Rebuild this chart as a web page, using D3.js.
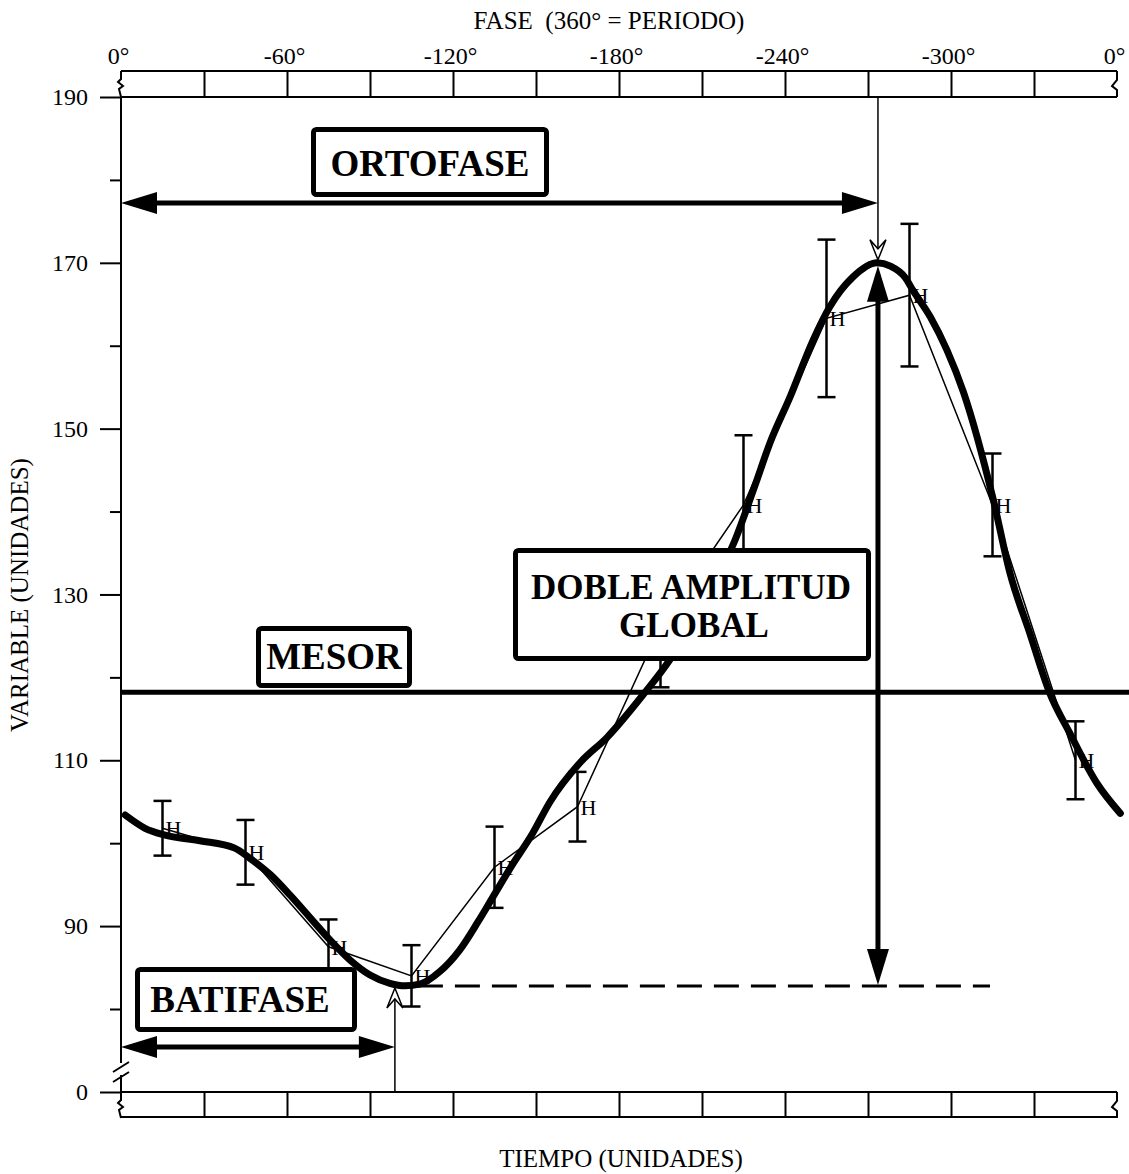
<!DOCTYPE html>
<html>
<head>
<meta charset="utf-8">
<script src="https://cdn.jsdelivr.net/npm/d3@7"></script>
<style>
body { margin: 0; background: #fff; }
text { font-family: 'Liberation Serif', 'Times New Roman', serif; fill: #000; }
</style>
</head>
<body>
<script>
// medias por intervalo de tiempo (12 intervalos = 1 periodo)
const tiempo = [0.5, 1.5, 2.5, 3.5, 4.5, 5.5, 6.5, 7.5, 8.5, 9.5, 10.5, 11.5];
const media = [101.8, 98.9, 87.5, 84.0, 97.1, 104.4, 126.2, 140.8, 163.3, 166.1, 140.8, 110.0];
const errorEst = [3.3, 3.9, 3.3, 3.7, 4.9, 4.2, 7.4, 8.4, 9.5, 8.6, 6.2, 4.7];

// curva ajustada
const ajusteT = [0.05, 0.29, 0.52, 0.95, 1.37, 1.55, 1.80, 2.04, 2.28, 2.52, 2.76, 3.00, 3.24, 3.42,
  3.60, 3.84, 4.08, 4.30, 4.48, 4.69, 4.96, 5.17, 5.53, 5.86, 6.29, 6.61, 6.98, 7.40, 7.64, 7.82,
  8.06, 8.34, 8.54, 8.82, 9.11, 9.27, 9.45, 9.54, 9.75, 9.95, 10.15, 10.51, 10.71, 10.95, 11.19, 11.43,
  11.76, 12.04];
const ajusteV = [103.4, 101.8, 101.0, 100.3, 99.4, 98.2, 96.2, 93.7, 91.0, 88.3, 85.9, 84.1, 83.1, 82.8,
  83.0, 84.5, 87.1, 90.5, 93.5, 97.0, 101.2, 105.0, 109.7, 112.8, 117.9, 122.1, 128.4, 136.6, 143.2, 148.3,
  153.8, 160.7, 164.7, 168.3, 170.0, 169.6, 168.2, 166.7, 163.5, 159.5, 154.4, 141.4, 132.6, 125.3, 118.1, 113.3,
  107.2, 103.6];

const faseTicks = [0, -30, -60, -90, -120, -150, -180, -210, -240, -270, -300, -330, -360];
const faseLabels = ['0°', '', '-60°', '', '-120°', '', '-180°', '', '-240°', '', '-300°', '', '0°'];
const tiempoTicks = [1, 2, 3, 4, 5, 6, 7, 8, 9, 10, 11];
const yMayores = [0, 90, 110, 130, 150, 170, 190];
const yMenores = [80, 100, 120, 140, 160, 180];

const mesor = 118.2, acrofase = 9.12, batifase = 3.3, maximo = 170.0, minimo = 82.9;

const svg = d3.select('body').append('svg')
  .attr('width', 1129)
  .attr('height', 1174);

const x = d3.scaleLinear().domain([0, 12]).range([121, 1117]);
const fase = d3.scaleLinear().domain([0, -360]).range([121, 1117]);
const y = d3.scaleLinear().domain([0, 80, 190]).range([1092, 1009, 97]); // eje cortado

function zigIzq(x0, y0) {
  return `M${x0},${y0} L${x0},${y0 + 8} L${x0 - 3},${y0 + 11} L${x0 + 2},${y0 + 15} L${x0 - 2},${y0 + 18} L${x0},${y0 + 26}`;
}
function zigDer(x0, y0) {
  return `M${x0},${y0} L${x0},${y0 + 9} L${x0 - 5},${y0 + 15} L${x0},${y0 + 19} L${x0},${y0 + 26}`;
}
function flecha(tx, ty, dx, dy) {
  const L = 36, w = 11;
  const bx = tx - dx * L, by = ty - dy * L;
  return `M${tx},${ty} L${bx - dy * w},${by + dx * w} L${bx + dy * w},${by - dx * w} Z`;
}
function flechaAbierta(tx, ty, dir) {
  // dir = 1 apunta hacia abajo, -1 hacia arriba
  return `M${tx - 8},${ty - dir * 20} L${tx},${ty} L${tx + 8},${ty - dir * 20} L${tx},${ty - dir * 11} Z`;
}

// banda superior (fase)
svg.append('g')
  .attr('transform', 'translate(0,97)')
  .call(d3.axisTop(fase).tickValues(faseTicks).tickSize(26).tickPadding(7)
    .tickFormat((d, i) => faseLabels[i]))
  .call(g => g.select('.domain').remove())
  .call(g => g.selectAll('.tick line').attr('stroke-width', 2).filter(d => d === 0 || d === -360).remove())
  .call(g => g.selectAll('text').attr('font-size', 24).attr('dx', -3));

svg.append('path').attr('d', 'M121,71 H1117').attr('stroke', '#000').attr('stroke-width', 2);
svg.append('path').attr('d', 'M121,97 H1117').attr('stroke', '#000').attr('stroke-width', 2);
svg.append('path').attr('d', zigIzq(121, 71)).attr('fill', 'none').attr('stroke', '#000').attr('stroke-width', 2);
svg.append('path').attr('d', zigDer(1117, 71)).attr('fill', 'none').attr('stroke', '#000').attr('stroke-width', 2);

// banda inferior (tiempo)
svg.append('g')
  .attr('transform', 'translate(0,1092)')
  .call(d3.axisBottom(x).tickValues(tiempoTicks).tickSize(25).tickFormat(''))
  .call(g => g.select('.domain').remove())
  .call(g => g.selectAll('.tick line').attr('stroke-width', 2));

svg.append('path').attr('d', 'M121,1092 H1117').attr('stroke', '#000').attr('stroke-width', 2);
svg.append('path').attr('d', 'M121,1117 H1117').attr('stroke', '#000').attr('stroke-width', 2);
svg.append('path').attr('d', zigIzq(121, 1092)).attr('fill', 'none').attr('stroke', '#000').attr('stroke-width', 2);
svg.append('path').attr('d', zigDer(1117, 1092)).attr('fill', 'none').attr('stroke', '#000').attr('stroke-width', 2);

// eje Y
svg.append('g')
  .attr('transform', 'translate(121,0)')
  .call(d3.axisLeft(y).tickValues(yMayores).tickSize(21).tickPadding(12).tickFormat(d3.format('d')))
  .call(g => g.select('.domain').remove())
  .call(g => g.selectAll('.tick line').attr('stroke-width', 2))
  .call(g => g.selectAll('text').attr('font-size', 24));

svg.append('g')
  .attr('transform', 'translate(121,0)')
  .call(d3.axisLeft(y).tickValues(yMenores).tickSize(11).tickFormat(''))
  .call(g => g.select('.domain').remove())
  .call(g => g.selectAll('.tick line').attr('stroke-width', 2));

svg.append('path').attr('d', 'M121,97 V1063 M121,1075 V1092')
  .attr('stroke', '#000').attr('stroke-width', 2);
svg.append('path').attr('d', 'M113,1072 L129,1062 M113,1082 L129,1072')
  .attr('stroke', '#000').attr('stroke-width', 2);

// mesor y nivel minimo
svg.append('line')
  .attr('x1', 121).attr('x2', 1129)
  .attr('y1', y(mesor)).attr('y2', y(mesor))
  .attr('stroke', '#000').attr('stroke-width', 5);

svg.append('line')
  .attr('x1', x(batifase) + 23).attr('x2', x(10.47))
  .attr('y1', y(minimo) + 1).attr('y2', y(minimo) + 1)
  .attr('stroke', '#000').attr('stroke-width', 3)
  .attr('stroke-dasharray', '25,12');

// datos: linea de medias, barras de error, marcas H
const datos = tiempo.map((t, i) => ({ t: t, m: media[i], e: errorEst[i] }));

svg.append('path')
  .datum(datos)
  .attr('fill', 'none')
  .attr('stroke', '#000')
  .attr('stroke-width', 1.5)
  .attr('d', d3.line().x(d => x(d.t)).y(d => y(d.m)));

const barras = svg.append('g').attr('stroke', '#000').attr('stroke-width', 2.5);
barras.selectAll('.v').data(datos).enter().append('line')
  .attr('x1', d => x(d.t)).attr('x2', d => x(d.t))
  .attr('y1', d => y(d.m + d.e)).attr('y2', d => y(d.m - d.e));
barras.selectAll('.s').data(datos).enter().append('line')
  .attr('x1', d => x(d.t) - 9).attr('x2', d => x(d.t) + 9)
  .attr('y1', d => y(d.m + d.e)).attr('y2', d => y(d.m + d.e));
barras.selectAll('.i').data(datos).enter().append('line')
  .attr('x1', d => x(d.t) - 9).attr('x2', d => x(d.t) + 9)
  .attr('y1', d => y(d.m - d.e)).attr('y2', d => y(d.m - d.e));

// la marca del punto 7 queda tapada por la caja de doble amplitud
svg.selectAll('.hm').data(datos.filter((d, i) => i !== 6)).enter().append('text')
  .attr('x', d => x(d.t) + 3)
  .attr('y', d => y(d.m) + 8)
  .attr('font-size', 22)
  .text('H');

// curva ajustada
svg.append('path')
  .datum(ajusteT.map((t, i) => [t, ajusteV[i]]))
  .attr('fill', 'none')
  .attr('stroke', '#000')
  .attr('stroke-width', 7)
  .attr('stroke-linejoin', 'round')
  .attr('stroke-linecap', 'round')
  .attr('d', d3.line().x(d => x(d[0])).y(d => y(d[1])).curve(d3.curveMonotoneX));

// acrofase: linea fina desde la banda superior
const xA = x(acrofase), xB = x(batifase);
svg.append('line').attr('x1', xA).attr('x2', xA).attr('y1', 97).attr('y2', y(maximo) - 4)
  .attr('stroke', '#000').attr('stroke-width', 1.5);
svg.append('path').attr('d', flechaAbierta(xA, y(maximo) - 3, 1))
  .attr('fill', '#fff').attr('stroke', '#000').attr('stroke-width', 1.5);

// batifase: linea fina desde la banda inferior
svg.append('line').attr('x1', xB).attr('x2', xB).attr('y1', 1092).attr('y2', y(minimo) + 4)
  .attr('stroke', '#000').attr('stroke-width', 1.5);
svg.append('path').attr('d', flechaAbierta(xB, y(minimo) + 3, -1))
  .attr('fill', '#fff').attr('stroke', '#000').attr('stroke-width', 1.5);

// flecha ORTOFASE
const yO = 203;
svg.append('line').attr('x1', 121 + 30).attr('x2', xA - 30).attr('y1', yO).attr('y2', yO)
  .attr('stroke', '#000').attr('stroke-width', 5);
svg.append('path').attr('d', flecha(121, yO, -1, 0));
svg.append('path').attr('d', flecha(xA, yO, 1, 0));

// flecha BATIFASE
const yBt = 1047;
svg.append('line').attr('x1', 121 + 30).attr('x2', xB - 30).attr('y1', yBt).attr('y2', yBt)
  .attr('stroke', '#000').attr('stroke-width', 5);
svg.append('path').attr('d', flecha(121, yBt, -1, 0));
svg.append('path').attr('d', flecha(xB, yBt, 1, 0));

// flecha doble amplitud
const yTop = y(maximo) + 3, yBot = y(minimo);
svg.append('line').attr('x1', xA).attr('x2', xA).attr('y1', yTop + 30).attr('y2', yBot - 30)
  .attr('stroke', '#000').attr('stroke-width', 5);
svg.append('path').attr('d', flecha(xA, yTop, 0, -1));
svg.append('path').attr('d', flecha(xA, yBot, 0, 1));

// cajas de texto
function caja(x0, y0, w, h, tam, lineas) {
  svg.append('rect')
    .attr('x', x0).attr('y', y0).attr('width', w).attr('height', h)
    .attr('rx', 3)
    .attr('fill', '#fff').attr('stroke', '#000').attr('stroke-width', 5);
  lineas.forEach(l => {
    svg.append('text')
      .attr('x', l[0]).attr('y', l[1])
      .attr('text-anchor', 'middle')
      .attr('font-size', tam)
      .attr('font-weight', 'bold')
      .text(l[2]);
  });
}
caja(313.5, 129.5, 233, 65, 37, [[430, 176, 'ORTOFASE']]);
caja(258.5, 628.5, 151, 57, 37, [[334, 669, 'MESOR']]);
caja(137.5, 969.5, 217, 60, 37, [[240, 1012, 'BATIFASE']]);
caja(515.5, 550.5, 353, 108, 35, [[691, 599, 'DOBLE AMPLITUD'], [694, 637, 'GLOBAL']]);

// titulos
svg.append('text')
  .attr('x', 609).attr('y', 29)
  .attr('text-anchor', 'middle')
  .attr('font-size', 25)
  .style('white-space', 'pre')
  .text('FASE  (360° = PERIODO)');

svg.append('text')
  .attr('x', 621).attr('y', 1167)
  .attr('text-anchor', 'middle')
  .attr('font-size', 25)
  .text('TIEMPO (UNIDADES)');

svg.append('text')
  .attr('transform', 'translate(28,595) rotate(-90)')
  .attr('text-anchor', 'middle')
  .attr('font-size', 25)
  .text('VARIABLE (UNIDADES)');
</script>
</body>
</html>
